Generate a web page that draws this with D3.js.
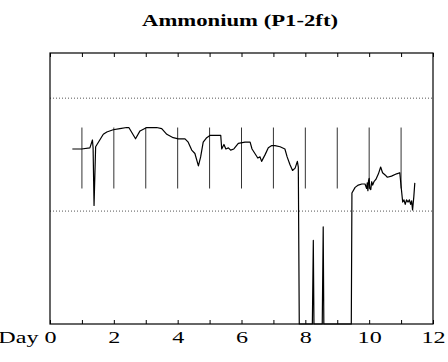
<!DOCTYPE html>
<html>
<head>
<meta charset="utf-8">
<script src="https://cdn.jsdelivr.net/npm/d3@7"></script>
<style>
  body { margin: 0; background: #fff; }
</style>
</head>
<body>
<div id="chart"></div>
<script>
// Chart data
const title = 'Ammonium (P1-2ft)'
const tickDays = [0, 1, 2, 3, 4, 5, 6, 7, 8, 9, 10, 11, 12]
const tickLabels = ['Day 0', '', '2', '', '4', '', '6', '', '8', '', '10', '', '12']
const gridValues = [1, 2]
const markerDays = [1, 2, 3, 4, 5, 6, 7, 8, 9, 10, 11]
const markerRange = [1.2, 1.74]

const sampleDay = [
  0.70, 0.99, 1.25, 1.33, 1.35, 1.38, 1.43, 1.67, 1.78, 1.98, 2.19, 2.40, 2.47, 2.68, 2.82,
  3.03, 3.34, 3.50, 3.66, 3.86, 4.02, 4.23, 4.33, 4.44, 4.54, 4.65, 4.72, 4.80, 4.91, 5.01,
  5.27, 5.35, 5.38, 5.45, 5.51, 5.59, 5.66, 5.76, 5.90, 6.11, 6.27, 6.33, 6.42, 6.51, 6.58,
  6.63, 6.74, 6.84, 6.95, 7.05, 7.21, 7.36, 7.43, 7.52, 7.60, 7.68, 7.75, 7.78, 7.81, 8.22,
  8.25, 8.27, 8.53, 8.56, 8.58, 9.44, 9.46, 9.56, 9.66, 9.77, 9.87, 9.92, 9.94, 9.96, 9.98,
  10.00, 10.02, 10.05, 10.08, 10.11, 10.15, 10.21, 10.29, 10.36, 10.42, 10.50, 10.57, 10.70, 10.86, 10.96,
  11.00, 11.05, 11.09, 11.13, 11.17, 11.22, 11.26, 11.30, 11.33, 11.36, 11.40, 11.43
]
const ammonium = [
  1.55, 1.55, 1.56, 1.63, 1.56, 1.05, 1.57, 1.68, 1.70, 1.72, 1.73, 1.74, 1.74, 1.64, 1.71,
  1.74, 1.74, 1.73, 1.68, 1.65, 1.64, 1.64, 1.61, 1.54, 1.51, 1.40, 1.48, 1.61, 1.65, 1.67,
  1.67, 1.67, 1.55, 1.59, 1.55, 1.56, 1.54, 1.55, 1.60, 1.61, 1.61, 1.55, 1.51, 1.47, 1.48,
  1.44, 1.50, 1.56, 1.58, 1.58, 1.57, 1.55, 1.48, 1.41, 1.36, 1.38, 1.44, 1.39, 0.00, 0.00,
  0.74, 0.00, 0.00, 0.86, 0.00, 0.00, 1.16, 1.21, 1.23, 1.24, 1.24, 1.20, 1.25, 1.18, 1.27,
  1.29, 1.20, 1.19, 1.26, 1.23, 1.26, 1.28, 1.33, 1.39, 1.34, 1.32, 1.30, 1.31, 1.33, 1.34,
  1.22, 1.08, 1.10, 1.06, 1.10, 1.08, 1.10, 1.06, 1.09, 1.01, 1.13, 1.25
]

const width = 448
const height = 362
const margin = {left: 50, right: 15, top: 53, bottom: 38}
const plotW = width - margin.left - margin.right
const plotH = height - margin.top - margin.bottom
const serif = '"Liberation Serif", "Times New Roman", Times, serif'
const stretch = 1.42

const svg = d3.select('#chart')
  .append('svg')
  .attr('width', width)
  .attr('height', height)
  .style('font-family', serif)

// Scales
const xScale = d3.scaleLinear().domain([0, 12]).range([0, plotW])
const yScale = d3.scaleLinear().domain([0, 2.4]).range([plotH, 0])

const gPlot = svg.append('g')
  .attr('transform', `translate(${margin.left},${margin.top})`)

// Dotted gridlines
gPlot.selectAll('.grid')
  .data(gridValues)
  .join('line')
  .attr('class', 'grid')
  .attr('x1', 0)
  .attr('x2', plotW)
  .attr('y1', d => yScale(d))
  .attr('y2', d => yScale(d))
  .style('stroke', '#555')
  .style('stroke-width', 1)
  .style('stroke-dasharray', '1,2')

// Day markers
gPlot.selectAll('.marker')
  .data(markerDays)
  .join('line')
  .attr('class', 'marker')
  .attr('x1', d => xScale(d))
  .attr('x2', d => xScale(d))
  .attr('y1', yScale(markerRange[1]))
  .attr('y2', yScale(markerRange[0]))
  .style('stroke', '#333')
  .style('stroke-width', 1)

// Data line
const series = sampleDay.map((d, i) => [d, ammonium[i]])
const linePath = d3.line()
  .x(d => xScale(d[0]))
  .y(d => yScale(d[1]))

gPlot.append('path')
  .datum(series)
  .attr('d', linePath)
  .style('fill', 'none')
  .style('stroke', '#000')
  .style('stroke-width', 1.2)
  .style('stroke-linejoin', 'round')

// Frame
gPlot.append('rect')
  .attr('x', 0)
  .attr('y', 0)
  .attr('width', plotW)
  .attr('height', plotH)
  .style('fill', 'none')
  .style('stroke', '#000')
  .style('stroke-width', 1.2)

// Axes (ticks pointing inward)
const tAxis = gPlot.append('g')
tAxis.call(d3.axisTop(xScale)
  .tickValues(tickDays)
  .tickSize(-4)
  .tickFormat(''))
tAxis.select('.domain').remove()

const bAxis = gPlot.append('g')
  .attr('transform', `translate(0,${plotH})`)
bAxis.call(d3.axisBottom(xScale)
  .tickValues(tickDays)
  .tickSize(-4)
  .tickFormat((d, i) => tickLabels[i]))
bAxis.select('.domain').remove()
bAxis.selectAll('line').style('stroke', '#000')
bAxis.selectAll('text')
  .attr('dy', null)
  .attr('y', 19)
  .attr('x', (d, i) => i === 0 ? 4.3 : 0)
  .attr('text-anchor', (d, i) => i === 0 ? 'end' : 'middle')
  .attr('transform', `scale(${stretch},1)`)
  .style('font-family', serif)
  .style('font-size', '17px')
  .style('fill', '#000')

// Title
svg.append('text')
  .attr('transform', `translate(240,25.5) scale(${stretch},1)`)
  .attr('text-anchor', 'middle')
  .style('font-size', '16px')
  .style('font-weight', 'bold')
  .text(title)
</script>
</body>
</html>
